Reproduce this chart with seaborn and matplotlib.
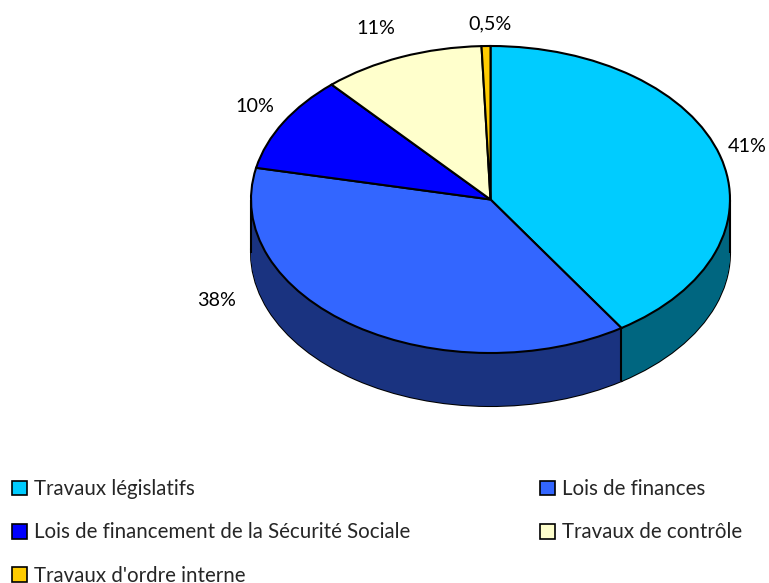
import matplotlib

matplotlib.use("Agg")
import matplotlib.pyplot as plt
import numpy as np
import seaborn as sns
from matplotlib.patches import Patch

# data
categories = [
    "Travaux législatifs",
    "Lois de finances",
    "Lois de financement de la Sécurité Sociale",
    "Travaux de contrôle",
    "Travaux d'ordre interne",
]
# shares
values = [41, 37.7, 10.2, 11, 0.6]
value_labels = ["41%", "38%", "10%", "11%", "0,5%"]
top_colors = ["#00CCFF", "#3366FF", "#0000FF", "#FFFFCC", "#FFCC00"]
side_colors = ["#006680", "#1A3380", "#000080", "#808066", "#806600"]

# layout, in pixels of the 769x583 picture
W, H = 769, 583
cx, cy, rx, ry, depth = 490.5, 199.5, 239.5, 153.5, 53
label_px = [(747, 146), (217, 300), (255, 106), (376, 28), (490, 24)]
font = {"family": "Lato", "size": 14.2, "color": "black"}

sns.set_theme(style="white")
plt.rcParams["font.family"] = ["Lato", "DejaVu Sans"]

fig = plt.figure(figsize=(W / 100, H / 100), dpi=100)
ax = fig.add_axes([0, 0, 1, 1])
d = depth / ry

# side wall: the pie stacked downwards
ax.pie(values, colors=side_colors, startangle=90, counterclock=False, center=(0, -d),
       wedgeprops={"linewidth": 1.5, "edgecolor": "black"})
for off in np.linspace(d, 0, 70):
    ax.pie(values, colors=side_colors, startangle=90, counterclock=False, center=(0, -off),
           wedgeprops={"linewidth": 0})

# edges of the wall
shares = np.cumsum(values) / np.sum(values)
for s in shares:
    ang = np.pi / 2 - 2 * np.pi * s
    x, y = np.cos(ang), np.sin(ang)
    if y < 0:
        ax.plot([x, x], [y, y - d], color="black", lw=1.5, solid_capstyle="butt")
for x in [-1, 1]:
    ax.plot([x, x], [0, -d], color="black", lw=1.5, solid_capstyle="butt")

# top face
ax.pie(values, colors=top_colors, startangle=90, counterclock=False,
       wedgeprops={"linewidth": 1.5, "edgecolor": "black"})

ax.set_aspect("auto")
ax.set_xlim(-cx / rx, (W - cx) / rx)
ax.set_ylim(-(H - cy) / ry, cy / ry)
ax.set_axis_off()

for txt, (px, py) in zip(value_labels, label_px):
    ax.text((px - cx) / rx, (cy - py) / ry, txt, ha="center", va="center", **font)

# legend reads row by row in the reference, matplotlib fills column by column
order = [0, 2, 4, 1, 3]
handles = [Patch(facecolor=top_colors[i], edgecolor="black", linewidth=1.2) for i in order]
fig.legend(
    handles,
    [categories[i] for i in order],
    ncols=2,
    loc="upper left",
    bbox_to_anchor=(6 / W, 1 - 473 / H),
    bbox_transform=fig.transFigure,
    frameon=False,
    prop={"family": "Lato", "size": 14.8},
    handlelength=0.72,
    handleheight=0.72,
    handletextpad=0.35,
    columnspacing=6.3,
    labelspacing=1.13,
    borderaxespad=0,
    borderpad=0.3,
)

fig.savefig("out.png", dpi=100)
